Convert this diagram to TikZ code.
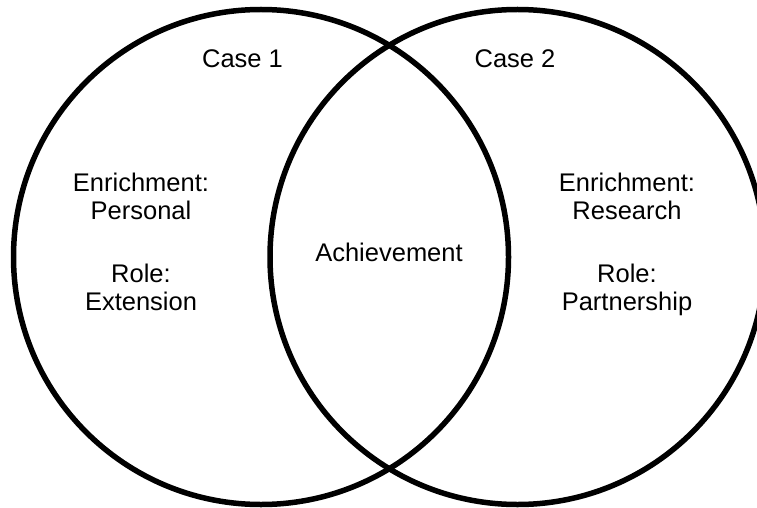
\documentclass[tikz,border=0pt]{standalone}
\usepackage{fontspec}
\setmainfont{Liberation Sans}
\begin{document}
\begin{tikzpicture}[x=1pt,y=-1pt,
  ring/.style={draw=black,line width=5.5pt},
  label/.style={font=\fontsize{25.5}{27.5}\selectfont,align=center,anchor=base,inner sep=0pt}]
  \useasboundingbox (0,0) rectangle (757,508);
  \begin{scope}
    \clip (0,0) rectangle (757,508);
    % the two overlapping sets
    \node[ring,circle,minimum size=495pt,inner sep=0pt] (left) at (261,257) {};
    \node[ring,circle,minimum size=495pt,inner sep=0pt] (right) at (517.5,257) {};
  \end{scope}
  % titles
  \node[label] (case1) at (242.5,68) {Case 1};
  \node[label] (case2) at (515,68) {Case 2};
  % contents of each set (base = last line)
  \node[label] (enrichL) at (141,219) {Enrichment:\\Personal};
  \node[label] (roleL) at (141,310) {Role:\\Extension};
  \node[label] (enrichR) at (627,219) {Enrichment:\\Research};
  \node[label] (roleR) at (627,310) {Role:\\Partnership};
  % shared part
  \node[label] (common) at (389,261) {Achievement};
\end{tikzpicture}
\end{document}
